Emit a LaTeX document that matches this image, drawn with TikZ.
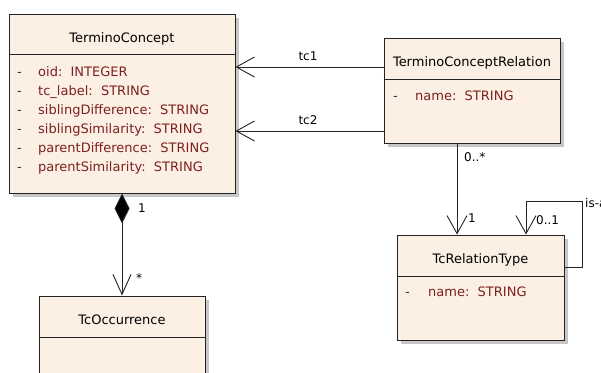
\documentclass[tikz,border=0pt]{standalone}
\usepackage{fontspec}
\setmainfont{DejaVu Sans}
\usetikzlibrary{arrows.meta,shadows}

\definecolor{classfill}{RGB}{251,240,227}
\definecolor{attrred}{RGB}{125,32,32}
\definecolor{edgegray}{RGB}{35,35,35}

\tikzset{
  classbox/.style={draw=edgegray, line width=1pt, fill=classfill, inner sep=0pt,
    drop shadow={shadow xshift=4pt, shadow yshift=-4pt, fill=black!22, opacity=1}},
  divider/.style={draw=edgegray, line width=1pt},
  title/.style={font=\fontsize{13}{15}\selectfont, text=black, anchor=base, inner sep=0pt},
  attr/.style={font=\fontsize{13}{15}\selectfont, text=attrred, anchor=base west, inner sep=0pt},
  vis/.style={font=\fontsize{13}{15}\selectfont, text=black!80, anchor=base west, inner sep=0pt},
  lbl/.style={font=\fontsize{12}{14}\selectfont, inner sep=0pt},
  conn/.style={draw=edgegray, line width=0.9pt},
  assoc/.style={conn, -{Straight Barb[length=18pt,width=20pt,line width=0.9pt]}},
  comp/.style={conn, {Diamond[length=30pt,width=15pt,fill=black]}-{Straight Barb[length=20pt,width=18pt,line width=0.9pt]}},
}

\begin{document}
\begin{tikzpicture}[x=1pt,y=-1pt]
  \useasboundingbox[fill=white] (0,0) rectangle (601,372);

  % TerminoConcept
  \node[classbox, minimum width=226pt, minimum height=179pt] (tc) at (122,103.5) {};
  \draw[divider] (tc.west |- 0,54) -- (tc.east |- 0,54);
  \node[title] (tctitle) at (122,42) {TerminoConcept};
  \foreach \txt [count=\i from 0] in {oid:\ \ INTEGER, tc\_label:\ \ STRING,
      siblingDifference:\ \ STRING, siblingSimilarity:\ \ STRING,
      parentDifference:\ \ STRING, parentSimilarity:\ \ STRING} {
    \node[vis] (tcv\i) at (17,76+19*\i) {-};
    \node[attr] (tca\i) at (38,76+19*\i) {\txt};
  }

  % TerminoConceptRelation
  \node[classbox, minimum width=176pt, minimum height=105pt] (tcr) at (472,90.5) {};
  \draw[divider] (tcr.west |- 0,79) -- (tcr.east |- 0,79);
  \node[title] (tcrtitle) at (472,66.5) {TerminoConceptRelation};
  \node[vis] (tcrv) at (393,100) {-};
  \node[attr] (tcra) at (415,100) {name:\ \ STRING};

  % TcRelationType
  \node[classbox, minimum width=167pt, minimum height=105pt] (trt) at (480.5,287.5) {};
  \draw[divider] (trt.west |- 0,276) -- (trt.east |- 0,276);
  \node[title] (trttitle) at (480.5,263) {TcRelationType};
  \node[vis] (trtv) at (405,296.5) {-};
  \node[attr] (trta) at (428,296.5) {name:\ \ STRING};

  % TcOccurrence
  \node[classbox, minimum width=166pt, minimum height=89pt] (occ) at (122,340.5) {};
  \draw[divider] (occ.west |- 0,337) -- (occ.east |- 0,337);
  \node[title] (occtitle) at (122,324) {TcOccurrence};

  % Associations
  \draw[assoc] (tcr.west |- 0,67) -- (tc.east |- 0,67);
  \node[lbl] (ltc1) at (308,56) {tc1};
  \draw[assoc] (tcr.west |- 0,131) -- (tc.east |- 0,131);
  \node[lbl] (ltc2) at (308,120) {tc2};

  \draw[assoc] (tcr.south -| 457,0) -- (trt.north -| 457,0);
  \node[lbl, anchor=west] (lmany) at (464,157) {0..*};
  \node[lbl, anchor=west] (lone) at (468,218) {1};

  % Self association of TcRelationType
  \coordinate (loopR) at (582,267);
  \coordinate (loopT) at (526,201);
  \draw[assoc] (trt.east |- loopR) -- (loopR) |- (loopT) -- (trt.north -| loopT);
  \node[lbl, anchor=west] (lopt) at (536,220) {0..1};
  \node[lbl, anchor=west] (lisa) at (585,203) {is-a};

  % Composition
  \draw[comp] (tc.south) -- (occ.north);
  \node[lbl, anchor=west] (lcone) at (138,208) {1};
  \node[lbl, anchor=west] (lcstar) at (136,278) {*};
\end{tikzpicture}
\end{document}
